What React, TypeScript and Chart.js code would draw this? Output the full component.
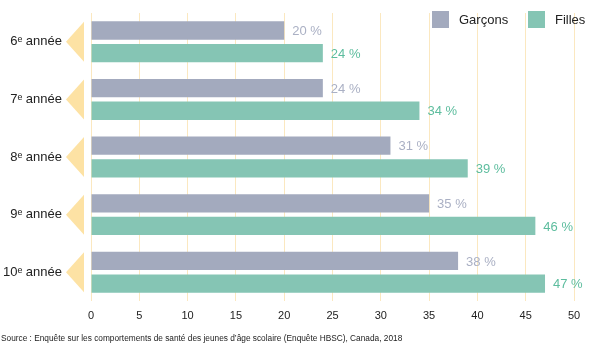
import React, { useEffect, useRef } from "react";
import { Chart, registerables } from "chart.js";

Chart.register(...registerables);

const categories = ["6ᵉ année", "7ᵉ année", "8ᵉ année", "9ᵉ année", "10ᵉ année"];
const garcons = [20, 24, 31, 35, 38];
const filles = [24, 34, 39, 46, 47];
const seriesNames = ["Garçons", "Filles"];
const xTicks = [0, 5, 10, 15, 20, 25, 30, 35, 40, 45, 50];
const sourceText =
  "Source : Enquête sur les comportements de santé des jeunes d’âge scolaire (Enquête HBSC), Canada, 2018";

const FONT = "'Liberation Sans', Arial, Helvetica, sans-serif";
const barColors = ["#a3aabe", "#85c5b4"];
const labelColors = ["#aab0c4", "#5dbd9e"];
const gridColor = "#fbe8c0";
const arrowColor = "#fde2a4";

const decorPlugin = {
  id: "decor",
  beforeDatasetsDraw(chart: any) {
    const ctx = chart.ctx;
    const y = chart.scales.y;
    const left = chart.chartArea.left;
    ctx.save();
    ctx.fillStyle = arrowColor;
    categories.forEach((_, i) => {
      const cy = y.getPixelForValue(i);
      ctx.beginPath();
      ctx.moveTo(left - 7, cy - 20);
      ctx.lineTo(left - 7, cy + 20);
      ctx.lineTo(left - 25, cy);
      ctx.closePath();
      ctx.fill();
    });
    ctx.restore();
  },
  afterDraw(chart: any) {
    const ctx = chart.ctx;
    ctx.save();
    ctx.font = `13px ${FONT}`;
    ctx.textBaseline = "middle";
    ctx.textAlign = "left";
    chart.data.datasets.forEach((ds: any, di: number) => {
      const meta = chart.getDatasetMeta(di);
      ctx.fillStyle = labelColors[di];
      meta.data.forEach((bar: any, i: number) => {
        ctx.fillText(`${ds.data[i]} %`, bar.x + 8, bar.y + 1);
      });
    });
    const legendX = [432, 528];
    chart.data.datasets.forEach((ds: any, di: number) => {
      const x = legendX[di];
      ctx.fillStyle = barColors[di];
      ctx.fillRect(x, 11, 17, 17);
      ctx.fillStyle = "#222222";
      ctx.font = `13px ${FONT}`;
      ctx.textBaseline = "middle";
      ctx.fillText(ds.label, x + 27, 20);
    });
    ctx.restore();
  },
};

export default function App() {
  const ref = useRef<HTMLCanvasElement | null>(null);
  useEffect(() => {
    if (!ref.current) return;
    Chart.defaults.font.family = FONT;
    const chart = new Chart(ref.current, {
      type: "bar",
      data: {
        labels: categories,
        datasets: [
          {
            label: seriesNames[0],
            data: garcons,
            backgroundColor: barColors[0],
            categoryPercentage: 0.785,
            barPercentage: 0.81,
          },
          {
            label: seriesNames[1],
            data: filles,
            backgroundColor: barColors[1],
            categoryPercentage: 0.785,
            barPercentage: 0.81,
          },
        ],
      },
      options: {
        indexAxis: "y",
        animation: false,
        responsive: true,
        maintainAspectRatio: false,
        layout: { autoPadding: false, padding: { top: 13, right: 26, bottom: 0, left: 1 } },
        plugins: {
          legend: { display: false },
          tooltip: { enabled: false },
          title: {
            display: true,
            text: sourceText,
            position: "bottom",
            align: "start",
            color: "#222222",
            font: { size: 8.3, weight: "normal", family: FONT, lineHeight: 1.2 },
            padding: { top: 0, bottom: 6 },
          },
        },
        scales: {
          x: {
            min: 0,
            max: 50,
            afterBuildTicks(scale: any) {
              scale.ticks = xTicks.map((v) => ({ value: v }));
            },
            afterFit(scale: any) {
              scale.height = 33;
              scale.paddingLeft = 0;
              scale.paddingRight = 0;
            },
            grid: { color: gridColor, drawTicks: false, lineWidth: 1 },
            border: { display: false },
            ticks: { color: "#222222", font: { size: 11 }, padding: 8 },
          },
          y: {
            afterFit(scale: any) {
              scale.width = 90;
              scale.paddingTop = 0;
              scale.paddingBottom = 0;
            },
            grid: { display: false, drawTicks: false },
            border: { display: false },
            ticks: { color: "#222222", font: { size: 13 }, padding: 29 },
          },
        },
      },
      plugins: [decorPlugin],
    });
    return () => chart.destroy();
  }, []);
  return (
    <div style={{ position: "fixed", left: 0, top: 0, width: 600, height: 350, background: "#ffffff" }}>
      <canvas ref={ref} />
    </div>
  );
}
